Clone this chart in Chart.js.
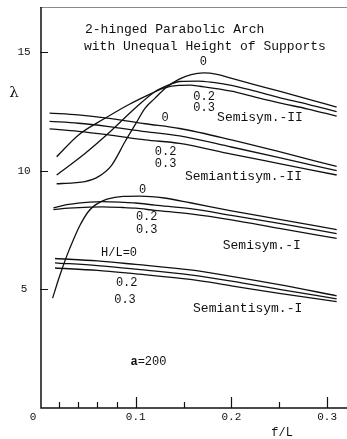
<!DOCTYPE html>
<html>
<head>
<meta charset="utf-8">
<title>2-hinged Parabolic Arch</title>
<script src="https://cdn.jsdelivr.net/npm/chart.js@4.4.0/dist/chart.umd.min.js"></script>
<style>
  html, body { margin: 0; padding: 0; background: #fff; }
</style>
</head>
<body>
<canvas id="arch-chart" width="347" height="439"></canvas>
<script>
// values: f/L (x) and lambda (y) per curve

// Semisym.-II
const ssII_0_x  = [0.0174, 0.035, 0.047, 0.061, 0.075, 0.0888, 0.0993, 0.1097, 0.12, 0.1306, 0.145, 0.158, 0.171, 0.185, 0.1985, 0.225, 0.25, 0.28, 0.31];
const ssII_0_y  = [9.45, 9.49, 9.54, 9.75, 10.24, 11.22, 11.93, 12.63, 13.05, 13.47, 13.85, 14.05, 14.12, 14.06, 13.91, 13.62, 13.35, 13.02, 12.68];
const ssII_02_x = [0.0174, 0.047, 0.075, 0.0993, 0.12, 0.134, 0.146, 0.165, 0.181, 0.20, 0.225, 0.25, 0.28, 0.31];
const ssII_02_y = [9.82, 10.73, 11.71, 12.63, 13.33, 13.61, 13.76, 13.78, 13.72, 13.6, 13.35, 13.08, 12.8, 12.49];
const ssII_03_x = [0.0174, 0.040, 0.068, 0.092, 0.1167, 0.1306, 0.145, 0.157, 0.167, 0.20, 0.225, 0.25, 0.28, 0.31];
const ssII_03_y = [10.59, 11.5, 12.21, 12.77, 13.26, 13.5, 13.6, 13.61, 13.56, 13.35, 13.1, 12.86, 12.6, 12.3];

// Semiantisym.-II
const saII_x    = [0.010, 0.040, 0.070, 0.110, 0.146, 0.20, 0.25, 0.31];
const saII_0_y  = [12.43, 12.35, 12.22, 11.98, 11.78, 11.3, 10.8, 10.18];
const saII_02_y = [12.08, 12.0, 11.87, 11.65, 11.47, 11.0, 10.55, 10.0];
const saII_03_y = [11.76, 11.66, 11.52, 11.3, 11.15, 10.7, 10.3, 9.82];

// Semisym.-I
const ssI_0_x   = [0.0132, 0.020, 0.0279, 0.035, 0.0418, 0.050, 0.0575, 0.070, 0.087, 0.1045, 0.13, 0.157, 0.20, 0.25, 0.31];
const ssI_0_y   = [4.63, 5.5, 6.4, 7.1, 7.7, 8.25, 8.55, 8.8, 8.92, 8.93, 8.85, 8.65, 8.31, 7.95, 7.52];
const ssI_x     = [0.014, 0.03, 0.052, 0.065, 0.087, 0.10, 0.12, 0.157, 0.20, 0.25, 0.31];
const ssI_02_y  = [8.43, 8.58, 8.68, 8.70, 8.67, 8.64, 8.55, 8.40, 8.12, 7.78, 7.35];
const ssI_03_y  = [8.36, 8.42, 8.47, 8.48, 8.45, 8.42, 8.33, 8.18, 7.93, 7.57, 7.15];

// Semiantisym.-I
const saI_x     = [0.0157, 0.06, 0.10, 0.157, 0.20, 0.25, 0.31];
const saI_0_y   = [6.30, 6.20, 6.05, 5.82, 5.55, 5.2, 4.73];
const saI_02_y  = [6.12, 6.0, 5.85, 5.61, 5.35, 5.0, 4.6];
const saI_03_y  = [5.90, 5.80, 5.65, 5.42, 5.15, 4.83, 4.48];

// axis ticks
const xTickValues = [0, 0.1, 0.2, 0.3];
const xTickLabels = ['0', '0.1', '0.2', '0.3'];
const xMinorTicks = [0.02, 0.04, 0.06, 0.08, 0.15, 0.25];
const yTickValues = [5, 10, 15];
const yTickLabels = ['5', '10', '15'];

// text placed on the plot, in data units
const notes = [
  { t: '2-hinged Parabolic Arch',          x: 0.047,  y: 15.97, align: 'left', size: 13 },
  { t: 'with Unequal Height of Supports',  x: 0.046,  y: 15.25, align: 'left', size: 13 },
  { t: '0',               x: 0.1706, y: 14.59, size: 12 },
  { t: '0.2',             x: 0.1714, y: 13.12, size: 12 },
  { t: '0.3',             x: 0.1714, y: 12.63, size: 12 },
  { t: 'Semisym.-II',     x: 0.2299, y: 12.22, size: 13 },
  { t: '0',               x: 0.1306, y: 12.25, size: 12 },
  { t: '0.2',             x: 0.1313, y: 10.80, size: 12 },
  { t: '0.3',             x: 0.1313, y: 10.31, size: 12 },
  { t: 'Semiantisym.-II', x: 0.2126, y: 9.75,  size: 13 },
  { t: '0',               x: 0.1073, y: 9.19,  size: 12 },
  { t: '0.2',             x: 0.1115, y: 8.04,  size: 12 },
  { t: '0.3',             x: 0.1115, y: 7.50,  size: 12 },
  { t: 'Semisym.-I',      x: 0.2317, y: 6.83,  size: 13 },
  { t: 'H/L=0',           x: 0.0826, y: 6.54,  size: 12 },
  { t: '0.2',             x: 0.0906, y: 5.28,  size: 12 },
  { t: '0.3',             x: 0.0888, y: 4.55,  size: 12 },
  { t: 'Semiantisym.-I',  x: 0.2170, y: 4.20,  size: 13 }
];

const zip = (xs, ys) => xs.map((v, i) => ({ x: v, y: ys[i] }));

const curves = [
  zip(ssII_0_x, ssII_0_y), zip(ssII_02_x, ssII_02_y), zip(ssII_03_x, ssII_03_y),
  zip(saII_x, saII_0_y), zip(saII_x, saII_02_y), zip(saII_x, saII_03_y),
  zip(ssI_0_x, ssI_0_y), zip(ssI_x, ssI_02_y), zip(ssI_x, ssI_03_y),
  zip(saI_x, saI_0_y), zip(saI_x, saI_02_y), zip(saI_x, saI_03_y)
];

const MONO = '"Liberation Mono", "DejaVu Sans Mono", monospace';
const INK = '#111';

const framePlugin = {
  id: 'frame',
  afterDatasetsDraw(chart) {
    const { ctx, chartArea: a, scales: { x, y } } = chart;
    ctx.save();

    // faint top border
    ctx.strokeStyle = '#8a8a8a';
    ctx.lineWidth = 1;
    ctx.beginPath();
    ctx.moveTo(a.left, a.top + 0.5);
    ctx.lineTo(a.right, a.top + 0.5);
    ctx.stroke();

    // axes
    ctx.strokeStyle = INK;
    ctx.lineWidth = 1.5;
    ctx.beginPath();
    ctx.moveTo(a.left + 1, a.top);
    ctx.lineTo(a.left + 1, a.bottom);
    ctx.lineTo(a.right, a.bottom);
    ctx.stroke();

    // ticks point into the plot
    ctx.lineWidth = 1.2;
    ctx.beginPath();
    xTickValues.slice(1).forEach(v => {
      const px = Math.round(x.getPixelForValue(v)) + 0.5;
      ctx.moveTo(px, a.bottom); ctx.lineTo(px, a.bottom - 11);
    });
    xMinorTicks.forEach(v => {
      const px = Math.round(x.getPixelForValue(v)) + 0.5;
      ctx.moveTo(px, a.bottom); ctx.lineTo(px, a.bottom - 6);
    });
    yTickValues.forEach(v => {
      const py = Math.round(y.getPixelForValue(v)) + 0.5;
      ctx.moveTo(a.left, py); ctx.lineTo(a.left + 8, py);
    });
    ctx.stroke();

    // tick labels
    ctx.fillStyle = INK;
    ctx.font = '11px ' + MONO;
    ctx.textAlign = 'center';
    ctx.textBaseline = 'middle';
    xTickValues.forEach((v, i) => {
      let px = x.getPixelForValue(v);
      if (v === 0) px -= 7;
      ctx.fillText(xTickLabels[i], px, a.bottom + 9);
    });
    yTickValues.forEach((v, i) => {
      ctx.fillText(yTickLabels[i], a.left - 16, y.getPixelForValue(v));
    });

    // axis titles
    ctx.font = '12px ' + MONO;
    ctx.fillText('f/L', x.getPixelForValue(0.253), a.bottom + 25);
    ctx.font = '15px "DejaVu Serif", serif';
    ctx.fillText('\u03bb', a.left - 26, y.getPixelForValue(13.27));

    // curve labels and title
    notes.forEach(n => {
      ctx.font = n.size + 'px ' + MONO;
      ctx.textAlign = n.align || 'center';
      ctx.fillText(n.t, x.getPixelForValue(n.x), y.getPixelForValue(n.y));
    });

    // a=200 with bold a
    ctx.textAlign = 'left';
    const ax = x.getPixelForValue(0.0945), ay = y.getPixelForValue(1.95);
    ctx.font = 'bold 12px ' + MONO;
    ctx.fillText('a', ax, ay);
    const aw = ctx.measureText('a').width;
    ctx.font = '12px ' + MONO;
    ctx.fillText('=200', ax + aw, ay);

    ctx.restore();
  }
};

new Chart(document.getElementById('arch-chart'), {
  type: 'scatter',
  data: {
    datasets: curves.map(pts => ({
      data: pts,
      showLine: true,
      borderColor: INK,
      borderWidth: 1.3,
      pointRadius: 0,
      cubicInterpolationMode: 'monotone',
      fill: false
    }))
  },
  options: {
    responsive: false,
    animation: false,
    layout: { padding: { left: 40, right: 0, top: 7, bottom: 31 } },
    plugins: { legend: { display: false }, tooltip: { enabled: false } },
    scales: {
      x: { type: 'linear', min: 0, max: 0.3208, display: false },
      y: { type: 'linear', min: 0, max: 16.9, display: false }
    }
  },
  plugins: [framePlugin]
});
</script>
</body>
</html>
